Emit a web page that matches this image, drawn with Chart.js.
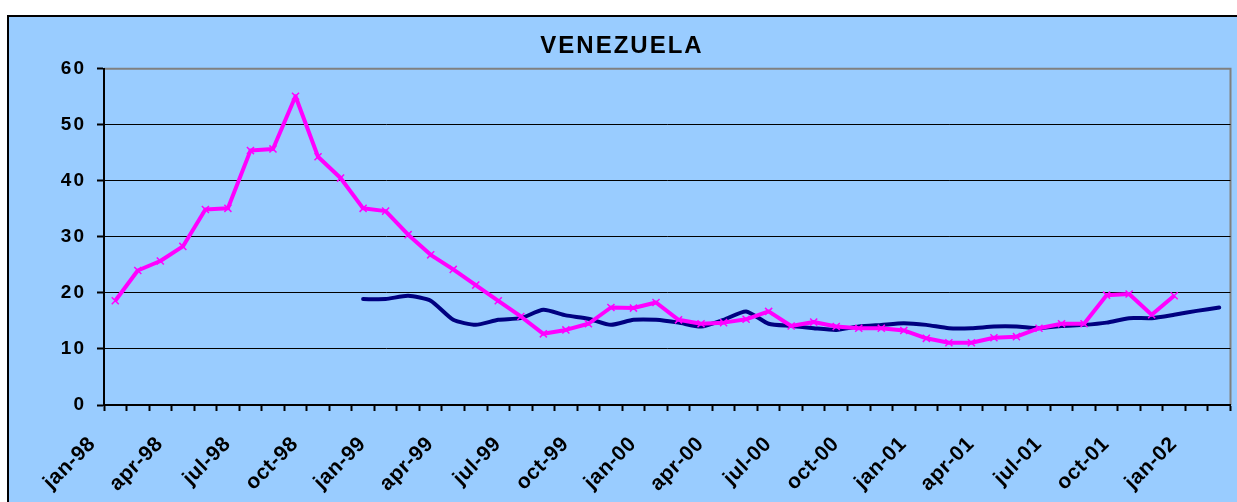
<!DOCTYPE html>
<html>
<head>
<meta charset="utf-8">
<script src="https://cdn.jsdelivr.net/npm/chart.js@4.4.1/dist/chart.umd.min.js"></script>
<style>
  html, body { margin: 0; padding: 0; background: #fff; }
  #wrap { width: 1237px; height: 502px; }
</style>
</head>
<body>
<div id="wrap"><canvas id="venezuela" width="1237" height="502"></canvas></div>
<script>
// meses (ene-98 .. feb-02)
var meses = [
  "jan-98", "feb-98", "mar-98", "apr-98", "may-98", "jun-98", "jul-98", "aug-98", "sep-98", "oct-98", "nov-98", "dec-98",
  "jan-99", "feb-99", "mar-99", "apr-99", "may-99", "jun-99", "jul-99", "aug-99", "sep-99", "oct-99", "nov-99", "dec-99",
  "jan-00", "feb-00", "mar-00", "apr-00", "may-00", "jun-00", "jul-00", "aug-00", "sep-00", "oct-00", "nov-00", "dec-00",
  "jan-01", "feb-01", "mar-01", "apr-01", "may-01", "jun-01", "jul-01", "aug-01", "sep-01", "oct-01", "nov-01", "dec-01",
  "jan-02", "feb-02"
];

// serie con marcadores (rosa)
var serieRosa = [
  18.6, 24.0, 25.7, 28.3, 34.9, 35.1, 45.4, 45.7, 55.1, 44.3, 40.5, 35.1,
  34.6, 30.4, 26.8, 24.2, 21.4, 18.6, 15.8, 12.7, 13.4, 14.5, 17.4, 17.3,
  18.3, 15.2, 14.5, 14.7, 15.3, 16.7, 14.1, 14.8, 14.0, 13.7, 13.7, 13.3,
  11.9, 11.1, 11.1, 12.0, 12.2, 13.7, 14.5, 14.5, 19.6, 19.8, 16.1, 19.5,
  null, null
];

// serie azul (empieza en dic-98)
var serieAzul = [
  null, null, null, null, null, null, null, null, null, null, null, 18.9,
  18.9, 19.5, 18.6, 15.2, 14.3, 15.2, 15.5, 17.0, 16.0, 15.4, 14.3, 15.2,
  15.2, 14.7, 14.0, 15.2, 16.7, 14.5, 14.1, 13.7, 13.4, 14.0, 14.3, 14.6,
  14.3, 13.7, 13.7, 14.0, 14.0, 13.7, 14.1, 14.3, 14.7, 15.5, 15.5, 16.1,
  16.8, 17.4
];

// eje Y
var ejeY = [0, 10, 20, 30, 40, 50, 60];

var FONDO = "#99ccff";

// fondo del grafico con borde negro y marco gris del area de trazado;
// espaciado de letras: 2px en titulo y eje Y, 0.5px en las fechas (dibujadas despues de las lineas)
var fondo = {
  id: "fondo",
  beforeLayout: function (chart) { chart.ctx.letterSpacing = "2px"; },
  beforeDraw: function (chart) {
    var c = chart.ctx, a = chart.chartArea;
    c.letterSpacing = "2px";
    c.save();
    c.fillStyle = "#fff";
    c.fillRect(0, 0, chart.width, chart.height);
    c.fillStyle = FONDO;
    c.fillRect(8, 16, chart.width - 8, chart.height - 16);
    c.fillStyle = "#000";
    c.fillRect(7, 15, 2, chart.height - 15);
    c.fillRect(7, 15, chart.width - 7, 2);
    c.strokeStyle = "#808080";
    c.lineWidth = 2;
    c.beginPath();
    c.moveTo(a.left, a.top);
    c.lineTo(a.right, a.top);
    c.lineTo(a.right, a.bottom);
    c.stroke();
    c.restore();
  },
  afterDatasetsDraw: function (chart) { chart.ctx.letterSpacing = "0.5px"; }
};

var ctx = document.getElementById("venezuela");
var grafico = new Chart(ctx, {
  type: "line",
  data: {
    labels: meses,
    datasets: [
      {
        label: "Serie 1",
        data: serieRosa,
        borderColor: "#ff00ff",
        backgroundColor: "#ff00ff",
        borderWidth: 4,
        borderJoinStyle: "round",
        pointStyle: "crossRot",
        pointRadius: 5,
        pointBorderWidth: 1.5,
        pointBorderColor: "#ff00ff",
        tension: 0,
        spanGaps: false
      },
      {
        label: "Serie 2",
        data: serieAzul,
        borderColor: "#000080",
        backgroundColor: "#000080",
        borderWidth: 4,
        borderCapStyle: "round",
        borderJoinStyle: "round",
        pointRadius: 0,
        tension: 0.2
      }
    ]
  },
  options: {
    responsive: false,
    animation: false,
    layout: { padding: { left: 12, right: 5, top: 0, bottom: 0 } },
    plugins: {
      legend: { display: false },
      tooltip: { enabled: false },
      title: {
        display: true,
        text: "VENEZUELA",
        color: "#000",
        font: { family: "'Liberation Sans', Arial, sans-serif", size: 24, weight: "bold" },
        padding: { top: 32, bottom: 8 }
      }
    },
    scales: {
      x: {
        offset: true,
        afterFit: function (s) { s.height = 97; s.paddingLeft = 0; s.paddingRight = 0; },
        grid: {
          offset: true,
          drawOnChartArea: false,
          tickLength: 6,
          tickWidth: 2,
          tickColor: "#000"
        },
        border: { color: "#000", width: 2 },
        ticks: {
          z: 1,
          autoSkip: false,
          maxRotation: 45,
          minRotation: 45,
          padding: 21,
          labelOffset: -23,
          color: "#000",
          font: { family: "'Liberation Sans', Arial, sans-serif", size: 21, weight: "bold" },
          callback: function (v, i) { return i % 3 === 0 ? meses[i] : ""; }
        }
      },
      y: {
        min: ejeY[0],
        max: ejeY[ejeY.length - 1],
        afterFit: function (s) { s.width = 92; s.paddingTop = 0; s.paddingBottom = 0; },
        afterBuildTicks: function (s) { s.ticks = ejeY.map(function (v) { return { value: v }; }); },
        grid: {
          color: function (c) { return c.tick && c.tick.value === 60 ? "#808080" : "#000"; },
          lineWidth: 1,
          tickLength: 7,
          tickWidth: 2,
          tickColor: "#000"
        },
        border: { color: "#000", width: 2 },
        ticks: {
          padding: 11,
          color: "#000",
          font: { family: "'Liberation Sans', Arial, sans-serif", size: 19, weight: "bold" }
        }
      }
    }
  },
  plugins: [fondo]
});
</script>
</body>
</html>
